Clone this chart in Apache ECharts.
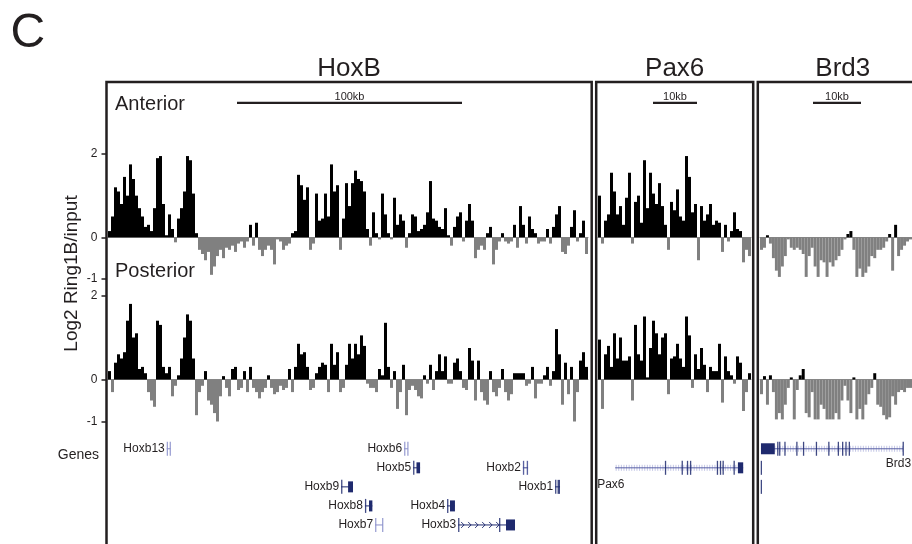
<!DOCTYPE html>
<html>
<head>
<meta charset="utf-8">
<script src="https://cdn.jsdelivr.net/npm/echarts@6/dist/echarts.min.js"></script>
<style>
  html, body { margin: 0; padding: 0; background: #fff; }
  #chart { width: 912px; height: 544px; }
</style>
</head>
<body>
<div id="chart"></div>
<script>
// log2 Ring1B/input, one value per bin (HoxB ~0.44kb/px, 3px bins)
const hoxbAnterior = [
  0.15, 0.5, 1.2, 1.1, 0.8, 1.45, 1.0, 1.75, 1.4, 1.0, 0.7, 0.5, 0.25, 0.3, 0.15, 0.7, 1.9, 1.95, 0.8, 0.05,
  0.55, 0.2, -0.12, 0.45, 0.7, 1.1, 1.95, 1.85, 1.05, 0.1, -0.3, -0.4, -0.55, -0.35, -0.9, -0.7, -0.45, -0.3, -0.5, -0.25,
  -0.3, -0.2, -0.35, -0.15, -0.1, -0.25, -0.1, 0.3, -0.2, 0.35, -0.3, -0.45, -0.3, -0.2, -0.3, -0.65, -0.05, -0.1, -0.3, -0.2,
  -0.15, 0.1, 0.15, 1.5, 1.25, 0.9, 1.2, -0.3, -0.15, 1.05, 0.4, 0.45, 1.05, 0.5, 1.75, 1.1, 1.25, -0.3, 0.45, 1.3,
  0.75, 1.3, 1.6, 1.4, 1.35, 1.1, 0.2, -0.2, 0.6, 0.1, -0.05, 1.05, 0.55, 0.1, -0.05, 0.95, 0.3, 0.55, 0.4, -0.25,
  0.1, 0.55, 0.5, 0.15, 0.2, 0.3, 0.6, 1.35, 0.45, 0.4, 0.25, 0.2, 0.7, 0.05, -0.2, 0.25, 0.5, 0.6, -0.1, 0.4,
  0.8, 0.4, -0.5, -0.3, -0.2, -0.3, 0.1, 0.25, -0.65, -0.3, -0.1, 0.1, -0.1, -0.15, -0.1, 0.3, -0.25, 0.75, 0.3, -0.15,
  0.5, 0.2, 0.1, -0.15, -0.1, -0.1, 0.2, -0.15, 0.25, 0.55, 0.75, -0.35, -0.4, -0.2, 0.25, 0.65, -0.1, 0.1, 0.4, -0.4
];
const hoxbPosterior = [
  0.2, -0.3, 0.4, 0.6, 0.5, 0.65, 1.4, 1.8, 1.0, 1.1, 0.25, 0.3, 0.15, -0.3, -0.5, -0.65, 1.4, 1.3, 0.3, 0.15,
  0.3, -0.4, -0.15, 0.1, 0.5, 1.0, 1.55, 1.4, 0.5, -0.85, -0.3, -0.15, 0.2, -0.5, -0.6, -0.8, -1.0, -0.4, 0.08, -0.2,
  -0.4, 0.25, 0.3, -0.25, -0.2, 0.2, -0.3, 0.3, -0.2, -0.3, -0.45, -0.3, -0.2, 0.1, -0.2, -0.35, -0.3, -0.15, -0.25, -0.2,
  0.25, -0.3, 0.3, 0.85, 0.6, 0.65, 0.3, -0.25, -0.2, 0.15, 0.3, 0.4, 0.35, -0.3, 0.85, 0.35, 0.65, -0.3, -0.2, 0.35,
  0.85, 0.5, 0.85, 0.6, 1.05, 0.8, -0.1, -0.2, -0.2, -0.3, 0.25, 0.1, 1.35, 0.3, -0.2, 0.2, -0.7, -0.3, 0.35, -0.85,
  -0.25, -0.15, -0.25, -0.4, -0.45, 0.1, -0.1, 0.35, -0.25, 0.2, 0.6, 0.2, 0.55, -0.1, -0.1, 0.4, 0.5, 0.2, -0.2, -0.25,
  0.75, 0.45, -0.5, 0.45, -0.3, -0.5, -0.6, 0.2, -0.3, -0.4, -0.2, 0.25, -0.3, -0.5, -0.35, 0.15, 0.15, 0.15, 0.15, -0.15,
  -0.1, 0.3, -0.45, -0.1, -0.1, 0.1, 0.3, -0.15, 0.2, 1.2, 0.6, -0.6, 0.4, -0.35, 0.3, -1.0, -0.3, 0.45, 0.65, 0.3
];
const pax6Anterior = [
  1.0, -0.15, 0.4, 0.55, 1.55, 1.1, 0.55, 0.75, 0.3, 0.95, 1.55, -0.15, 0.85, 1.0, 0.35, 1.85, 0.7, 1.55, 1.05, 0.8,
  1.3, 0.75, 0.3, -0.3, 0.85, 0.65, 1.15, 0.5, 0.4, 1.95, 1.45, 0.6, 0.8, -0.55, 0.75, 0.4, 0.55, 0.8, 0.3, 0.4,
  0.35, -0.35, 0.3, -0.1, 0.15, 0.6, 0.2, 0.15, -0.6, -0.3, -0.45
];
const pax6Posterior = [
  0.95, -0.7, 0.6, 0.8, 0.3, 1.1, 0.5, 1.0, 0.45, 0.45, 0.55, -0.5, 1.3, 0.6, 0.45, 1.5, 0.05, 0.75, 1.4, 1.1,
  0.6, 1.0, 1.1, -0.35, 0.5, 0.55, 0.85, 0.5, 0.3, 1.5, 1.05, -0.2, 0.6, 0.25, 0.75, 0.35, -0.3, 0.3, 0.2, 0.2,
  0.85, -0.55, 0.55, 0.2, 0.1, -0.1, 0.55, 0.4, -0.75, -0.3, 0.15
];
const brd3Anterior = [
  -0.3, -0.25, 0.05, -0.15, -0.5, -0.8, -0.95, -0.7, -0.45, -0.05, -0.25, -0.3, -0.25, -0.3, -0.4, -0.95, -0.45, -0.25, -0.7, -0.95,
  -0.55, -0.6, -0.95, -0.6, -0.7, -0.55, -0.45, -0.3, -0.05, 0.08, 0.15, -0.3, -0.95, -0.75, -0.95, -0.85, -0.7, -0.45, -0.5, -0.3,
  -0.3, -0.25, -0.1, 0.08, -0.8, 0.3, -0.45, -0.3, -0.2, -0.1, -0.05
];
const brd3Posterior = [
  -0.35, 0.08, -0.6, 0.1, -0.3, -0.95, -0.8, -0.95, -0.6, -0.2, 0.05, -0.95, -0.25, 0.1, 0.25, -0.8, -0.9, -0.3, -0.95, -0.95,
  -0.6, -0.7, -0.95, -0.95, -0.95, -0.8, -0.95, -0.5, -0.15, -0.5, -0.8, 0.05, -0.95, -0.7, -0.95, -0.6, -0.35, -0.2, 0.15, -0.6,
  -0.65, -0.85, -0.95, -0.9, -0.4, -0.6, -0.3, -0.25, -0.3, -0.2, -0.2
];
const yTicks = [2, 0, -1];
const panelNames = ['HoxB', 'Pax6', 'Brd3'];
const scaleLabels = ['100kb', '10kb', '10kb'];
const scaleKb = [100, 10, 10];
const trackNames = ['Anterior', 'Posterior'];

// genes, kb from the left edge of each panel
const geneNames = ['Hoxb13', 'Hoxb9', 'Hoxb8', 'Hoxb7', 'Hoxb6', 'Hoxb5', 'Hoxb4', 'Hoxb3', 'Hoxb2', 'Hoxb1', 'Pax6', 'Brd3', '', ''];
const genePanel = [0, 0, 0, 0, 0, 0, 0, 0, 0, 0, 1, 2, 2, 2];
const geneRow = [0, 2, 3, 4, 0, 1, 3, 4, 1, 2, 1, 0, 1, 2];
const geneStart = [26.1, 103.6, 114.2, 118.7, 131.6, 135.6, 150.7, 155.6, 184.4, 198.7, 3.9, 0.2, 0.15, 0.15];
const geneEnd = [27.8, 108.9, 117.5, 122.2, 133.3, 138.7, 154.2, 180.9, 186.7, 200.9, 33.0, 30.0, 0.35, 0.35];
const geneExons = [
  [[26.1, 26.4], [27.4, 27.8]],
  [[103.6, 104.0], [106.7, 108.9]],
  [[114.2, 114.5], [116.0, 117.5]],
  [[118.7, 119.0], [121.8, 122.2]],
  [[131.6, 131.9], [133.0, 133.3]],
  [[135.6, 135.9], [137.1, 138.7]],
  [[150.7, 151.1], [152.0, 154.2]],
  [[155.6, 155.9], [173.8, 174.2], [176.9, 180.9]],
  [[184.4, 184.8], [186.1, 186.7]],
  [[198.7, 199.0], [199.8, 200.9]],
  [[15.2, 15.4], [19.0, 19.2], [20.2, 20.4], [20.9, 21.1], [27.0, 27.2], [27.7, 27.9], [28.3, 28.5], [30.8, 31.0], [31.8, 33.0]],
  [[0.2, 3.1], [3.6, 3.8], [4.0, 4.2], [5.1, 5.3], [7.6, 7.8], [9.0, 9.2], [11.7, 11.9], [14.3, 14.5], [16.3, 16.5], [17.2, 17.4], [17.9, 18.1], [18.6, 18.8], [29.9, 30.1]],
  [[0.15, 0.35]],
  [[0.15, 0.35]]
];
const geneTone = ['light', 'dark', 'dark', 'light', 'light', 'dark', 'dark', 'dark', 'mid', 'dark', 'dark', 'dark', 'dark', 'dark'];

// layout (pixels)
const FONT = '"Liberation Sans", Arial, Helvetica, sans-serif';
const INK = '#231f20';
const toneColor = { dark: '#1f2a6e', mid: '#3c4590', light: '#8b90cb' };
const panelBox = [
  { left: 108, width: 480, pxPerKb: 2.25, frameX: 106.5, frameW: 485.2 },
  { left: 598, width: 153, pxPerKb: 4.4, frameX: 596.2, frameW: 157 },
  { left: 760, width: 153, pxPerKb: 4.8, frameX: 757.8, frameW: 170 }
];
const trackBox = [
  { top: 112.3, height: 166.7, max: 3 },
  { top: 295.5, height: 126, max: 2 }
];
const geneBox = { top: 439.25, height: 107.25 };
const labelPlace = { Pax6: 'belowStart', Brd3: 'belowEnd' };
const intronStyle = { Hoxb3: 'chevron', Hoxb9: 'chevron', Pax6: 'hatch', Brd3: 'hatch' };

const signals = [[hoxbAnterior, hoxbPosterior], [pax6Anterior, pax6Posterior], [brd3Anterior, brd3Posterior]];

const grid = [], xAxis = [], yAxis = [], series = [], graphic = [];

panelBox.forEach((pb, p) => {
  signals[p].forEach((vals, t) => {
    const tb = trackBox[t];
    const gi = grid.length;
    grid.push({ left: pb.left, width: pb.width, top: tb.top, height: tb.height });
    xAxis.push({
      type: 'category', gridIndex: gi, data: vals.map((_, i) => i), boundaryGap: true,
      axisLine: { show: true, onZero: true, lineStyle: { color: '#8c8c8c', width: 1 } },
      axisTick: { show: false }, axisLabel: { show: false }, splitLine: { show: false }
    });
    yAxis.push({
      type: 'value', gridIndex: gi, min: -1, max: tb.max, show: p === 0, offset: 1.5,
      axisLine: { show: false }, splitLine: { show: false },
      axisTick: { show: true, customValues: yTicks, length: 5, lineStyle: { color: INK, width: 1.5 } },
      axisLabel: { customValues: yTicks, margin: 9, color: INK, fontSize: 12, fontFamily: FONT }
    });
    series.push({
      type: 'bar', xAxisIndex: gi, yAxisIndex: gi, data: vals, barCategoryGap: '0%', silent: true,
      itemStyle: { color: (d) => (d.value >= 0 ? '#000000' : '#808080') }
    });
  });

  // gene track
  const gi = grid.length;
  grid.push({ left: pb.left, width: pb.width, top: geneBox.top, height: geneBox.height });
  xAxis.push({ type: 'value', gridIndex: gi, min: 0, max: pb.width / pb.pxPerKb, show: false });
  yAxis.push({ type: 'value', gridIndex: gi, min: -0.5, max: 5, inverse: true, show: false });
  const gData = [];
  geneNames.forEach((n, i) => {
    if (genePanel[i] === p) gData.push([geneStart[i], geneEnd[i], geneRow[i], i]);
  });
  series.push({
    type: 'custom', xAxisIndex: gi, yAxisIndex: gi, data: gData, clip: false, silent: true,
    encode: { x: [0, 1], y: 2 }, renderItem: renderGene
  });

  // frame, title
  graphic.push({
    type: 'rect', z: 100, shape: { x: pb.frameX, y: 82, width: pb.frameW, height: 520 },
    style: { fill: 'none', stroke: INK, lineWidth: 2.5 }
  });
  graphic.push({
    type: 'text', z: 100, x: pb.frameX + pb.frameW / 2, y: 68.5,
    style: { text: panelNames[p], font: '26px ' + FONT, fill: INK, textAlign: 'center', textVerticalAlign: 'middle' }
  });
});

// scale bars, sized from the kb scale of each panel
const scaleCenter = [349.5, 675, 837];
panelBox.forEach((pb, p) => {
  const half = scaleKb[p] * pb.pxPerKb / 2;
  graphic.push({
    type: 'line', z: 100, shape: { x1: scaleCenter[p] - half, y1: 102.8, x2: scaleCenter[p] + half, y2: 102.8 },
    style: { stroke: INK, lineWidth: 2.3 }
  });
  graphic.push({
    type: 'text', z: 100, x: scaleCenter[p], y: 97,
    style: { text: scaleLabels[p], font: '11px ' + FONT, fill: INK, textAlign: 'center', textVerticalAlign: 'middle' }
  });
});

graphic.push(
  { type: 'text', x: 10.5, y: 34, style: { text: 'C', font: '48px ' + FONT, fill: INK, textVerticalAlign: 'middle' } },
  { type: 'text', x: 115, y: 104, style: { text: trackNames[0], font: '20px ' + FONT, fill: INK, textVerticalAlign: 'middle' } },
  { type: 'text', x: 115, y: 271, style: { text: trackNames[1], font: '20px ' + FONT, fill: INK, textVerticalAlign: 'middle' } },
  { type: 'text', x: 71.5, y: 273.5, rotation: Math.PI / 2,
    style: { text: 'Log2 Ring1B/input', font: '19px ' + FONT, fill: INK, textAlign: 'center', textVerticalAlign: 'middle' } },
  { type: 'text', x: 99, y: 455, style: { text: 'Genes', font: '14px ' + FONT, fill: INK, textAlign: 'right', textVerticalAlign: 'middle' } }
);

function renderGene(params, api) {
  const i = api.value(3);
  const y = api.coord([0, api.value(2)])[1];
  const xs = api.coord([api.value(0), 0])[0];
  const xe = api.coord([api.value(1), 0])[0];
  const col = toneColor[geneTone[i]];
  const name = geneNames[i];
  const kids = [];
  const style = intronStyle[name];
  if (style === 'hatch') {
    for (let x = xs + 1; x < xe; x += 2.6) {
      kids.push({ type: 'line', shape: { x1: x, y1: y - 3, x2: x, y2: y + 3 }, style: { stroke: '#b4b8de', lineWidth: 0.8 } });
    }
  }
  if (xe - xs > 2) {
    kids.push({ type: 'line', shape: { x1: xs, y1: y, x2: xe, y2: y }, style: { stroke: style === 'hatch' ? '#5a61a6' : col, lineWidth: 1 } });
  }
  if (style === 'chevron') {
    const ex = geneExons[i];
    const stop = api.coord([ex[ex.length - 1][0], 0])[0];
    for (let x = xs + 5; x < stop - 3; x += 7) {
      kids.push({ type: 'polyline', shape: { points: [[x - 2, y - 3], [x + 1, y], [x - 2, y + 3]] }, style: { stroke: col, lineWidth: 0.9, fill: 'none' } });
    }
  }
  geneExons[i].forEach(([s, e]) => {
    const a = api.coord([s, 0])[0];
    const b = api.coord([e, 0])[0];
    const w = Math.max(b - a, 1.3);
    const h = w > 3 ? 11 : 14;
    kids.push({ type: 'rect', shape: { x: a, y: y - h / 2, width: w, height: h }, style: { fill: col, opacity: w > 3 ? 1 : 0.85 } });
  });
  if (name) {
    const place = labelPlace[name];
    let tx = xs - 2, ty = y, align = 'right';
    if (place === 'belowStart') { tx = xs - 18; ty = y + 16.5; align = 'left'; }
    if (place === 'belowEnd') { tx = xe + 8; ty = y + 14.5; align = 'right'; }
    kids.push({ type: 'text', style: { text: name, x: tx, y: ty, font: '12px ' + FONT, fill: INK, textAlign: align, textVerticalAlign: 'middle' } });
  }
  return { type: 'group', children: kids };
}

const chart = echarts.init(document.getElementById('chart'));
chart.setOption({
  animation: false,
  backgroundColor: '#ffffff',
  grid, xAxis, yAxis, series, graphic
});
</script>
</body>
</html>
